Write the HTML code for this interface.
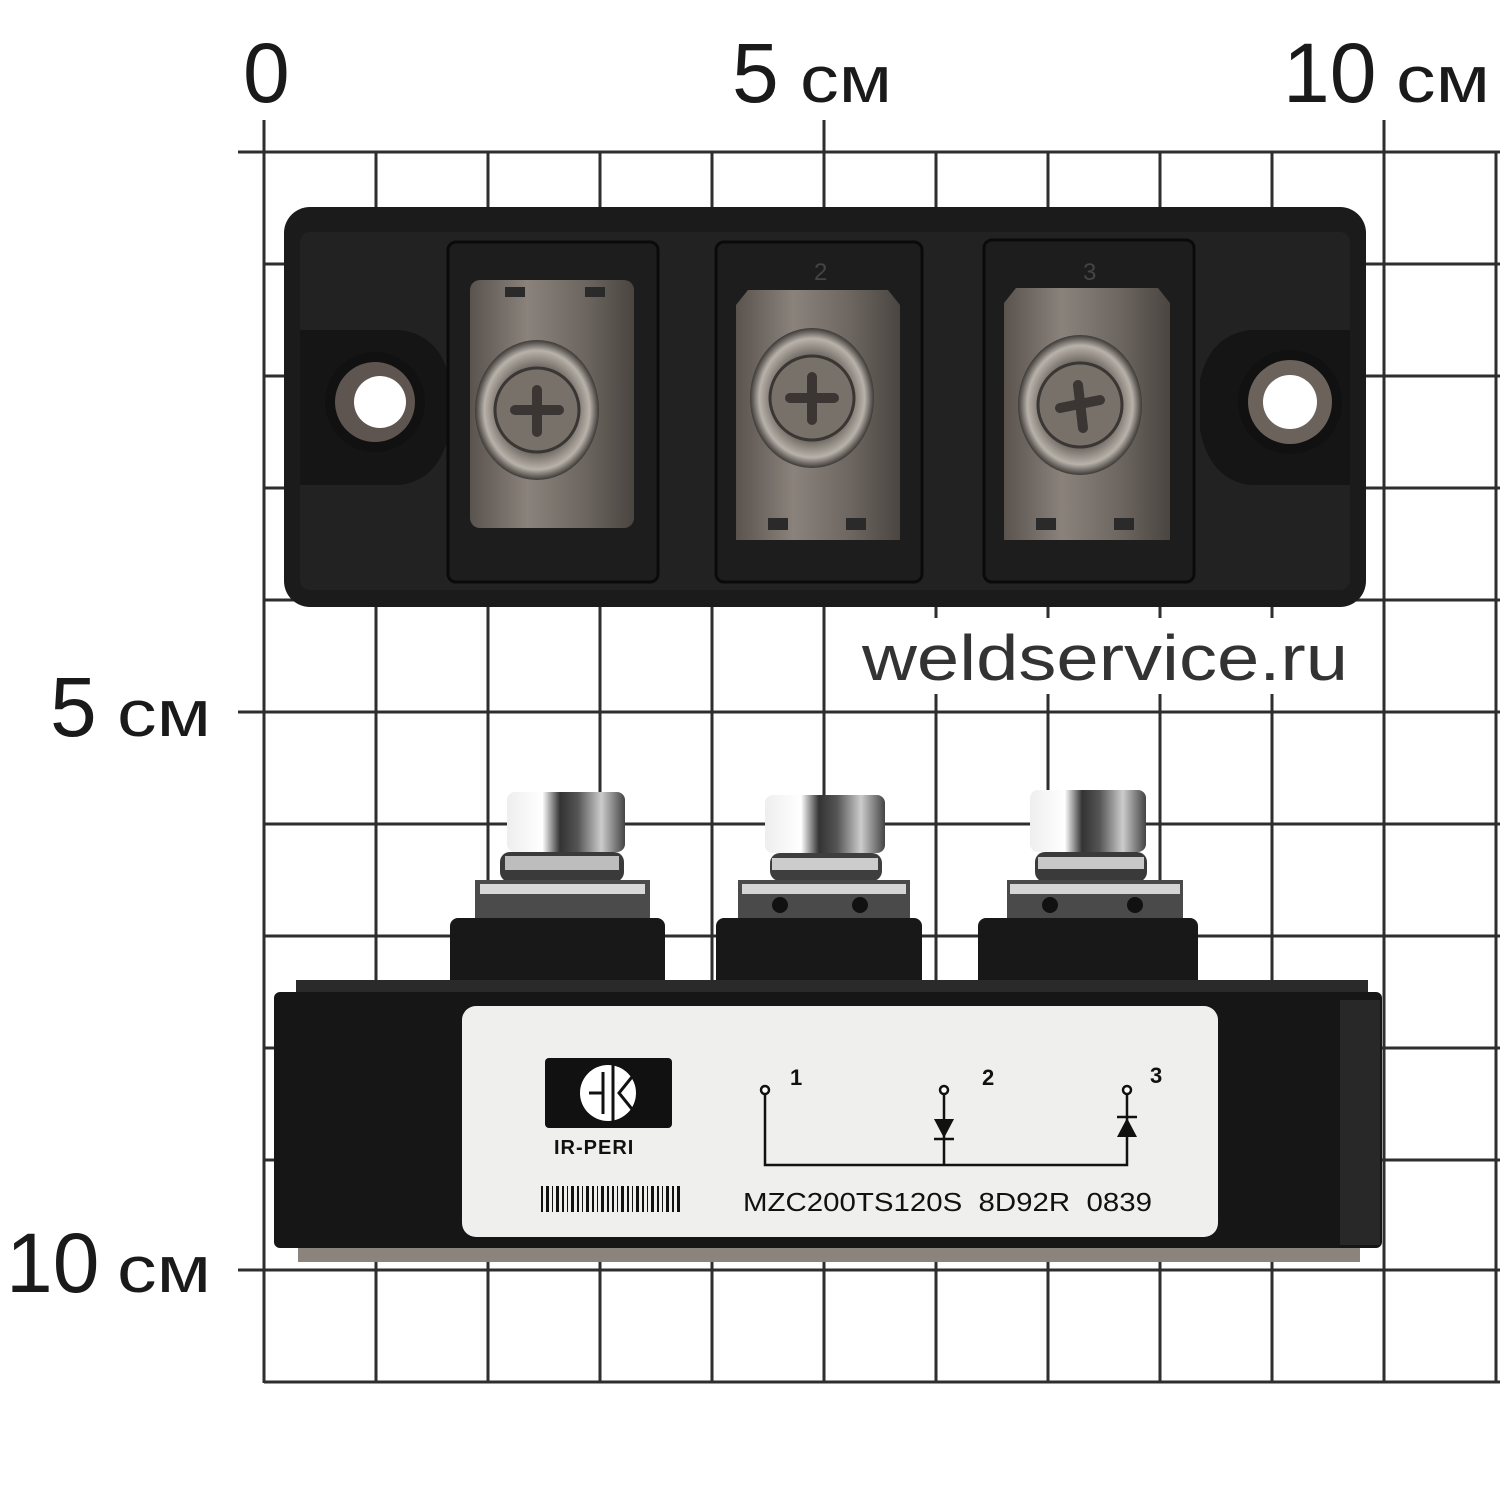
<!DOCTYPE html>
<html><head><meta charset="utf-8"><style>html,body{margin:0;padding:0;background:#fff}svg{display:block}</style></head><body>
<svg width="1500" height="1500" viewBox="0 0 1500 1500" xmlns="http://www.w3.org/2000/svg" font-family="Liberation Sans, sans-serif">
<defs>
<linearGradient id="met" x1="0" x2="1"><stop offset="0" stop-color="#5a534e"/><stop offset=".35" stop-color="#8a827b"/><stop offset=".7" stop-color="#6d6660"/><stop offset="1" stop-color="#4a4541"/></linearGradient>
<radialGradient id="scr"><stop offset="0" stop-color="#8d8780"/><stop offset=".6" stop-color="#6b655f"/><stop offset=".85" stop-color="#b8b2aa"/><stop offset="1" stop-color="#3d3936"/></radialGradient>
<linearGradient id="nut" x1="0" x2="1"><stop offset="0" stop-color="#eee"/><stop offset=".3" stop-color="#fff"/><stop offset=".45" stop-color="#333"/><stop offset=".6" stop-color="#555"/><stop offset=".8" stop-color="#ccc"/><stop offset="1" stop-color="#444"/></linearGradient>
</defs>
<rect width="1500" height="1500" fill="#fff"/>
<g stroke="#2e2e2e" stroke-width="3">
<line x1="264" y1="120" x2="264" y2="1383"/><line x1="376" y1="152" x2="376" y2="1383"/><line x1="488" y1="152" x2="488" y2="1383"/><line x1="600" y1="152" x2="600" y2="1383"/><line x1="712" y1="152" x2="712" y2="1383"/><line x1="824" y1="120" x2="824" y2="1383"/><line x1="936" y1="152" x2="936" y2="1383"/><line x1="1048" y1="152" x2="1048" y2="1383"/><line x1="1160" y1="152" x2="1160" y2="1383"/><line x1="1272" y1="152" x2="1272" y2="1383"/><line x1="1384" y1="120" x2="1384" y2="1383"/><line x1="1496" y1="152" x2="1496" y2="1383"/>
<line x1="238" y1="152" x2="1500" y2="152"/><line x1="264" y1="264" x2="1500" y2="264"/><line x1="264" y1="376" x2="1500" y2="376"/><line x1="264" y1="488" x2="1500" y2="488"/><line x1="264" y1="600" x2="1500" y2="600"/><line x1="238" y1="712" x2="1500" y2="712"/><line x1="264" y1="824" x2="1500" y2="824"/><line x1="264" y1="936" x2="1500" y2="936"/><line x1="264" y1="1048" x2="1500" y2="1048"/><line x1="264" y1="1160" x2="1500" y2="1160"/><line x1="238" y1="1270" x2="1500" y2="1270"/><line x1="264" y1="1382" x2="1500" y2="1382"/>
</g>
<g fill="#1a1a1a">
<text x="243" y="102" font-size="84">0</text>
<text x="732" y="102" font-size="84">5</text><text x="800" y="102" font-size="66" textLength="92" lengthAdjust="spacingAndGlyphs">см</text>
<text x="1283" y="102" font-size="84">10</text><text x="1396" y="102" font-size="66" textLength="94" lengthAdjust="spacingAndGlyphs">см</text>
<text x="50" y="736" font-size="84">5</text><text x="117" y="736" font-size="66" textLength="94" lengthAdjust="spacingAndGlyphs">см</text>
<text x="6" y="1292" font-size="84">10</text><text x="117" y="1292" font-size="66" textLength="94" lengthAdjust="spacingAndGlyphs">см</text>
</g>
<rect x="850" y="618" width="510" height="76" fill="#fff"/>
<text x="862" y="680" font-size="64" fill="#333" textLength="486" lengthAdjust="spacingAndGlyphs">weldservice.ru</text>

<rect x="284" y="207" width="1082" height="400" rx="26" fill="#1b1b1b"/>
<rect x="300" y="232" width="1050" height="358" rx="10" fill="#222"/>
<path d="M300 330 H400 Q440 335 450 380 V430 Q440 480 400 485 H300 Z" fill="#151515"/>
<path d="M1350 330 H1250 Q1210 335 1200 380 V430 Q1210 480 1250 485 H1350 Z" fill="#151515"/>
<circle cx="375" cy="402" r="50" fill="#111"/><circle cx="375" cy="402" r="40" fill="#5e5550"/><circle cx="380" cy="402" r="26" fill="#fff"/>
<circle cx="1290" cy="402" r="52" fill="#111"/><circle cx="1290" cy="402" r="42" fill="#6b625c"/><circle cx="1290" cy="402" r="27" fill="#fff"/>
<rect x="448" y="242" width="210" height="340" rx="8" fill="#1d1d1d" stroke="#0a0a0a" stroke-width="3"/>
<rect x="716" y="242" width="206" height="340" rx="8" fill="#1d1d1d" stroke="#0a0a0a" stroke-width="3"/>
<rect x="984" y="240" width="210" height="342" rx="8" fill="#1d1d1d" stroke="#0a0a0a" stroke-width="3"/>
<rect x="470" y="280" width="164" height="248" rx="10" fill="url(#met)"/>
<path d="M748 290 H888 L900 305 V540 H736 V305 Z" fill="url(#met)"/>
<path d="M1016 288 H1158 L1170 303 V540 H1004 V303 Z" fill="url(#met)"/>
<ellipse cx="537" cy="410" rx="62" ry="70" fill="url(#scr)"/><circle cx="537" cy="410" r="42" fill="#77716a" stroke="#3a3633" stroke-width="3"/>
<ellipse cx="812" cy="398" rx="62" ry="70" fill="url(#scr)"/><circle cx="812" cy="398" r="42" fill="#77716a" stroke="#3a3633" stroke-width="3"/>
<ellipse cx="1080" cy="405" rx="62" ry="70" fill="url(#scr)"/><circle cx="1080" cy="405" r="42" fill="#77716a" stroke="#3a3633" stroke-width="3"/>
<g stroke="#3b3633" stroke-width="10" stroke-linecap="round"><path d="M515 410 H559 M537 390 V432"/><path d="M790 398 H834 M812 377 V420"/><path d="M1060 408 L1100 400 M1078 385 L1083 428"/></g>
<g fill="#2a2a2a"><rect x="505" y="287" width="20" height="10"/><rect x="585" y="287" width="20" height="10"/><rect x="768" y="518" width="20" height="12"/><rect x="846" y="518" width="20" height="12"/><rect x="1036" y="518" width="20" height="12"/><rect x="1114" y="518" width="20" height="12"/></g>
<g fill="#444" font-size="24"><text x="814" y="280">2</text><text x="1083" y="280">3</text></g>

<g>
<rect x="507" y="792" width="118" height="60" rx="8" fill="url(#nut)"/>
<rect x="500" y="852" width="124" height="30" rx="10" fill="#3a3a3a"/><rect x="505" y="856" width="114" height="14" fill="#bdbdbd"/>
<rect x="475" y="880" width="175" height="40" fill="#4b4b4b"/><rect x="480" y="884" width="165" height="10" fill="#d8d8d8"/>
<rect x="765" y="795" width="120" height="58" rx="8" fill="url(#nut)"/>
<rect x="770" y="853" width="112" height="28" rx="10" fill="#3e3e3e"/><rect x="772" y="858" width="106" height="12" fill="#ccc"/>
<rect x="738" y="880" width="172" height="42" fill="#4a4a4a"/><rect x="742" y="884" width="164" height="10" fill="#d5d5d5"/>
<circle cx="780" cy="905" r="8" fill="#111"/><circle cx="860" cy="905" r="8" fill="#111"/>
<rect x="1030" y="790" width="116" height="62" rx="8" fill="url(#nut)"/>
<rect x="1035" y="852" width="112" height="30" rx="10" fill="#3a3a3a"/><rect x="1038" y="857" width="106" height="12" fill="#c8c8c8"/>
<rect x="1007" y="880" width="176" height="42" fill="#4a4a4a"/><rect x="1010" y="884" width="170" height="10" fill="#d5d5d5"/>
<circle cx="1050" cy="905" r="8" fill="#111"/><circle cx="1135" cy="905" r="8" fill="#111"/>
</g>
<rect x="450" y="918" width="215" height="80" rx="8" fill="#181818"/>
<rect x="716" y="918" width="206" height="80" rx="8" fill="#181818"/>
<rect x="978" y="918" width="220" height="80" rx="8" fill="#181818"/>
<rect x="296" y="980" width="1072" height="20" fill="#2a2a2a"/>
<rect x="298" y="1240" width="1062" height="22" fill="#8a847c"/>
<rect x="274" y="992" width="1108" height="256" rx="6" fill="#161616"/>
<rect x="1340" y="1000" width="40" height="245" fill="#3a3a3a" opacity=".5"/>
<rect x="462" y="1006" width="756" height="231" rx="14" fill="#efefee"/>
<rect x="545" y="1058" width="127" height="70" rx="4" fill="#111"/>
<circle cx="608" cy="1093" r="28" fill="#fff"/>
<line x1="589" y1="1093" x2="603" y2="1093" stroke="#111" stroke-width="3"/>
<line x1="603" y1="1072" x2="603" y2="1114" stroke="#111" stroke-width="3"/>
<line x1="613" y1="1065" x2="613" y2="1121" stroke="#111" stroke-width="3"/>
<path d="M636 1072 L619 1093 L636 1114" fill="none" stroke="#111" stroke-width="3"/>
<text x="554" y="1154" font-size="20" font-weight="bold" fill="#111" letter-spacing="1">IR-PERI</text>
<g fill="#111">
<rect x="541" y="1186" width="2" height="26"/><rect x="546" y="1186" width="3" height="26"/><rect x="552" y="1186" width="1" height="26"/><rect x="556" y="1186" width="3" height="26"/><rect x="562" y="1186" width="2" height="26"/><rect x="567" y="1186" width="1" height="26"/><rect x="571" y="1186" width="3" height="26"/><rect x="577" y="1186" width="2" height="26"/><rect x="582" y="1186" width="1" height="26"/><rect x="586" y="1186" width="3" height="26"/><rect x="592" y="1186" width="2" height="26"/><rect x="597" y="1186" width="1" height="26"/><rect x="601" y="1186" width="3" height="26"/><rect x="607" y="1186" width="2" height="26"/><rect x="612" y="1186" width="2" height="26"/><rect x="617" y="1186" width="1" height="26"/><rect x="621" y="1186" width="3" height="26"/><rect x="627" y="1186" width="2" height="26"/><rect x="632" y="1186" width="1" height="26"/><rect x="636" y="1186" width="3" height="26"/><rect x="642" y="1186" width="2" height="26"/><rect x="647" y="1186" width="1" height="26"/><rect x="651" y="1186" width="3" height="26"/><rect x="657" y="1186" width="2" height="26"/><rect x="662" y="1186" width="1" height="26"/><rect x="666" y="1186" width="3" height="26"/><rect x="672" y="1186" width="2" height="26"/><rect x="677" y="1186" width="3" height="26"/>
</g>
<g stroke="#111" stroke-width="2.5" fill="none">
<path d="M765 1094 V1165 H1127 V1094"/><path d="M944 1094 V1165"/>
<circle cx="765" cy="1090" r="4" fill="#fff"/><circle cx="944" cy="1090" r="4" fill="#fff"/><circle cx="1127" cy="1090" r="4" fill="#fff"/>
<line x1="934" y1="1139" x2="954" y2="1139"/><line x1="1117" y1="1117" x2="1137" y2="1117"/>
</g>
<path d="M934 1119 H954 L944 1138 Z" fill="#111"/>
<path d="M1117 1137 H1137 L1127 1118 Z" fill="#111"/>
<g font-size="22" font-weight="bold" fill="#111"><text x="790" y="1085">1</text><text x="982" y="1085">2</text><text x="1150" y="1083">3</text></g>
<text x="743" y="1211" font-size="26" fill="#111" xml:space="preserve" textLength="409" lengthAdjust="spacingAndGlyphs">MZC200TS120S  8D92R  0839</text>
</svg>
</body></html>
